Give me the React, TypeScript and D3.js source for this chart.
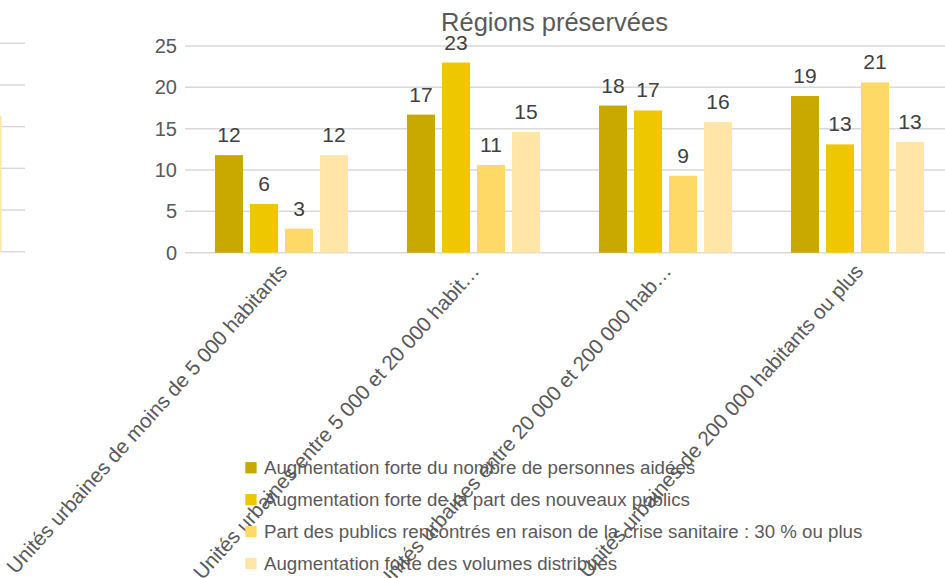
import * as d3 from "d3";

const categories = [
  "Unités urbaines de moins de 5 000 habitants",
  "Unités urbaines entre 5 000 et 20 000 habit…",
  "Unités urbaines entre 20 000 et 200 000 hab…",
  "Unités urbaines de 200 000 habitants ou plus",
];

const seriesNames = [
  "Augmentation forte du nombre de personnes aidées",
  "Augmentation forte de la part des nouveaux publics",
  "Part des publics rencontrés en raison de la crise sanitaire : 30 % ou plus",
  "Augmentation forte des volumes distribués",
];

const seriesColors = ["#C9A900", "#EFC700", "#FFD966", "#FFE5A8"];

// one array per series, one value per category
const nombrePersonnes = [11.8, 16.7, 17.8, 18.95];
const nouveauxPublics = [5.9, 23.0, 17.2, 13.1];
const criseSanitaire = [2.9, 10.6, 9.3, 20.6];
const volumesDistribues = [11.8, 14.6, 15.8, 13.4];

const yTicks = [0, 5, 10, 15, 20, 25];

// bit of the neighbouring chart visible on the left edge
const neighbourValue = 16.3;

const title = "Régions préservées";

const W = 945;
const H = 578;
const font = "'Liberation Sans', Arial, sans-serif";

export default function App() {
  const values = [nombrePersonnes, nouveauxPublics, criseSanitaire, volumesDistribues];

  const x = d3.scaleBand<string>().domain(categories).range([185.5, 953.5]);
  const inner = d3
    .scaleBand<number>()
    .domain(d3.range(seriesNames.length))
    .range([29.5, x.bandwidth() - 29.5])
    .paddingInner(0.2);
  const y = d3.scaleLinear().domain([0, 25]).range([252.7, 46]);
  const yLeft = d3.scaleLinear().domain([0, 25]).range([251.7, 43.3]);
  const fmt = d3.format(".0f");

  return (
    <svg
      width={W}
      height={H}
      style={{ position: "absolute", left: 0, top: 0, background: "#fff" }}
      fontFamily={font}
    >
      {/* neighbour chart fragment */}
      <g>
        {yTicks.map((t) => (
          <line key={t} x1={0} x2={25} y1={yLeft(t)} y2={yLeft(t)} stroke="#D9D9D9" strokeWidth={1.5} />
        ))}
        <rect x={-27} y={yLeft(neighbourValue)} width={28.5} height={yLeft(0) - yLeft(neighbourValue)} fill={seriesColors[3]} />
        <text x={-12} y={yLeft(neighbourValue) - 13} textAnchor="middle" fontSize={21} fill="#404040">
          {fmt(neighbourValue)}
        </text>
      </g>

      {yTicks.map((t) => (
        <g key={t}>
          <line x1={185} x2={W} y1={y(t)} y2={y(t)} stroke="#D9D9D9" strokeWidth={1.5} />
          <text x={177} y={y(t)} dy="0.35em" textAnchor="end" fontSize={20} fill="#595959">
            {t}
          </text>
        </g>
      ))}

      <text x={554.5} y={31} textAnchor="middle" fontSize={25.5} fill="#595959">
        {title}
      </text>

      {categories.map((c, ci) => (
        <g key={c} transform={`translate(${x(c)},0)`}>
          {values.map((s, si) => {
            const v = s[ci];
            const bx = inner(si)!;
            return (
              <g key={si}>
                <rect x={bx} y={y(v)} width={inner.bandwidth()} height={y(0) - y(v)} fill={seriesColors[si]} />
                <text
                  x={bx + inner.bandwidth() / 2}
                  y={y(v) - 13}
                  textAnchor="middle"
                  fontSize={21}
                  fill="#404040"
                >
                  {fmt(v)}
                </text>
              </g>
            );
          })}
        </g>
      ))}

      {categories.map((c) => {
        const cx = x(c)! + x.bandwidth() / 2 + 7;
        return (
          <text
            key={c}
            transform={`translate(${cx},272) rotate(-48)`}
            textAnchor="end"
            fontSize={20.6}
            fill="#595959"
          >
            {c}
          </text>
        );
      })}

      {seriesNames.map((name, i) => {
        const cy = 467.7 + i * 31.9;
        return (
          <g key={name}>
            <rect x={245.3} y={cy - 5.6} width={11.3} height={11.3} fill={seriesColors[i]} />
            <text x={264} y={cy} dy="0.35em" fontSize={18.7} fill="#595959">
              {name}
            </text>
          </g>
        );
      })}
    </svg>
  );
}
